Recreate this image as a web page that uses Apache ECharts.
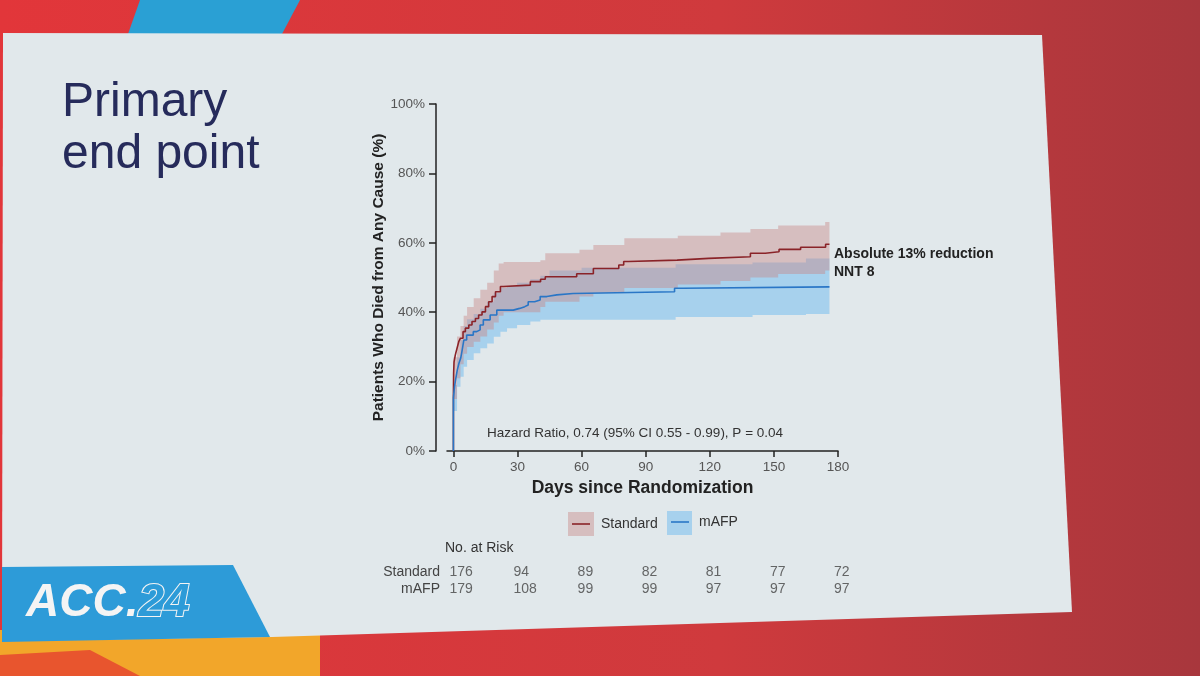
<!DOCTYPE html>
<html>
<head>
<meta charset="utf-8">
<script src="https://cdn.jsdelivr.net/npm/echarts@6/dist/echarts.min.js"></script>
<style>
  html, body { margin: 0; padding: 0; }
  #km { width: 1200px; height: 676px; }
</style>
</head>
<body>
<div id="km"></div>
<script>
// Kaplan-Meier: cumulative death (%) by day
var standardCurve = [[0,0],[0,16],[0.1,22.4],[0.3,25.7],[0.9,27.7],[1.7,29.6],[2.5,31.5],[3.3,32.5],[4.5,34.4],[5.6,35.4],[7.2,36.3],[8.7,37.3],[10.3,38.2],[11.8,39.2],[13.4,40.1],[15,41.6],[16.5,43],[18.1,44.5],[19.7,45.9],[22,47.4],[23.4,47.8],[36,48.8],[40.8,49.5],[43,50.2],[57.7,51.1],[65.5,52.6],[77.4,53.6],[79.7,54.6],[82,55],[104.7,55.5],[119.5,56],[139,57],[146,57.4],[152.4,58.1],[162.5,58.7],[174.2,59.6],[176,59.6]];
var mafpCurve = [[0,0],[0,15.3],[0.5,18.5],[1,20.5],[1.8,23.3],[2.6,25.3],[3.4,26.7],[4.1,29.1],[4.9,32],[6.2,33.4],[9.3,34.4],[10.9,34.9],[12.5,36.3],[14,37.8],[17.2,39.2],[20.3,40.6],[28,41.1],[31,41.6],[33.4,42.1],[35,43],[38,43.5],[40.6,44.5],[43.7,45],[48.4,45.4],[56,45.9],[103.5,46.9],[107.5,47.3],[176,47.3]];

// 95% CI bands (step)
var redBandDays = [0,1.7,3.3,4.8,6.4,9.5,12.6,15.8,18.9,21.2,23.5,40.7,43,59,65.5,80,105,125,139,152,174,176];
var redUpper = [27,33,36,39,41.5,44,46.5,48.5,52,54,54.5,55,57,58,59.4,61.3,62,63,64,65,66,66];
var redLower = [15,21,25,28,30,31.5,33,35,37,39,40,41.5,43,44.5,45.5,47,48,49,50,51,52,52];
var blueBandDays = [0,1.7,3.3,4.8,6.4,9.5,12.6,15.8,18.9,22,25.1,29.8,36,40.7,45,60,104,140,165,176];
var blueUpper = [19,27,32,36,38,39.5,41,43,45.5,47,47.5,48.5,49.5,50.5,52,52.8,53.8,54.3,55.5,56];
var blueLower = [11.5,18.5,21.4,24.3,26.2,28.2,29.6,31,32.9,34.4,35.4,36.3,37.3,37.8,37.8,37.8,38.6,39.2,39.5,39.5];

var dayTicks = [0,30,60,90,120,150,180];
var riskDays = [0,30,60,90,120,150,180];
var riskStandard = [176,94,89,82,81,77,72];
var riskMafp = [179,108,99,99,97,97,97];

var FONT = '"Liberation Sans", Arial, sans-serif';

function bandRenderer(days, up, low) {
  return function(params, api) {
    var pts = [];
    for (var i = 0; i < days.length; i++) {
      var nx = i < days.length - 1 ? days[i + 1] : days[i];
      pts.push(api.coord([days[i], up[i]]));
      pts.push(api.coord([nx, up[i]]));
    }
    for (var j = days.length - 1; j >= 0; j--) {
      var nx2 = j < days.length - 1 ? days[j + 1] : days[j];
      pts.push(api.coord([nx2, low[j]]));
      pts.push(api.coord([days[j], low[j]]));
    }
    return {
      type: 'polygon',
      shape: { points: pts },
      style: { fill: api.visual('color') }
    };
  };
}

var riskStd = riskDays.map(function(d, i) { return [d, 'Standard', riskStandard[i]]; });
var riskAfp = riskDays.map(function(d, i) { return [d, 'mAFP', riskMafp[i]]; });

var chart = echarts.init(document.getElementById('km'));
chart.setOption({
  backgroundColor: {
    type: 'linear', x: 0, y: 0, x2: 1, y2: 0,
    colorStops: [{ offset: 0, color: '#e2363a' }, { offset: 0.6, color: '#cf3a3d' }, { offset: 1, color: '#a8373d' }]
  },
  textStyle: { fontFamily: FONT },
  animation: false,
  grid: [
    { left: 447, top: 104, width: 391, height: 347 },
    { left: 447, top: 564, width: 391, height: 34 }
  ],
  xAxis: [{
    type: 'value', gridIndex: 0, min: -3, max: 180,
    name: 'Days since Randomization', nameLocation: 'middle', nameGap: 23,
    nameTextStyle: { fontSize: 17.5, fontWeight: 'bold', color: '#222' },
    axisLine: { lineStyle: { color: '#222', width: 1.5 } },
    axisTick: { length: 6, lineStyle: { color: '#222', width: 1.5 }, customValues: dayTicks },
    axisLabel: { fontSize: 13.5, color: '#555', margin: 9, customValues: dayTicks },
    splitLine: { show: false }
  }, {
    type: 'value', gridIndex: 1, min: -3, max: 180, show: false
  }],
  yAxis: [{
    type: 'value', gridIndex: 0, min: 0, max: 100, interval: 20, offset: 11,
    name: 'Patients Who Died from Any Cause (%)', nameLocation: 'middle', nameGap: 42,
    nameTextStyle: { fontSize: 15.5, fontWeight: 'bold', color: '#222' },
    axisLine: { show: true, onZero: false, lineStyle: { color: '#222', width: 1.5 } },
    axisTick: { show: true, length: 7, lineStyle: { color: '#222', width: 1.5 } },
    axisLabel: { formatter: '{value}%', fontSize: 13.5, color: '#555', margin: 11 },
    splitLine: { show: false }
  }, {
    type: 'category', gridIndex: 1, data: ['mAFP', 'Standard'],
    axisLine: { show: false }, axisTick: { show: false },
    axisLabel: { interval: 0, fontSize: 14, color: '#444', margin: 7 }
  }],
  series: [
    {
      name: 'mAFP CI', type: 'custom', xAxisIndex: 0, yAxisIndex: 0, data: [[0, 0]],
      itemStyle: { color: 'rgba(110,185,240,0.5)' },
      renderItem: bandRenderer(blueBandDays, blueUpper, blueLower), z: 1
    },
    {
      name: 'Standard CI', type: 'custom', xAxisIndex: 0, yAxisIndex: 0, data: [[0, 0]],
      itemStyle: { color: 'rgba(200,130,130,0.42)' },
      renderItem: bandRenderer(redBandDays, redUpper, redLower), z: 1
    },
    {
      name: 'Standard', type: 'line', step: 'end', data: standardCurve, showSymbol: false,
      lineStyle: { color: '#8a2328', width: 1.6 }, z: 3
    },
    {
      name: 'mAFP', type: 'line', step: 'end', data: mafpCurve, showSymbol: false,
      lineStyle: { color: '#2a76c6', width: 1.6 }, z: 4
    },
    {
      type: 'scatter', xAxisIndex: 1, yAxisIndex: 1, symbolSize: 0,
      data: riskStd.concat(riskAfp),
      label: {
        show: true, position: 'inside', align: 'left', offset: [-4, 0],
        fontSize: 14, color: '#444',
        formatter: function(p) { return p.value[2]; }
      }
    }
  ],
  graphic: [
    // backdrop
    { type: 'polygon', z: -20, shape: { points: [[140,0],[300,0],[282,34],[128,34]] }, style: { fill: '#2aa0d4' } },
    { type: 'polygon', z: -20, shape: { points: [[0,630],[320,630],[320,676],[0,676]] }, style: { fill: '#f2a62a' } },
    { type: 'polygon', z: -20, shape: { points: [[0,655],[90,650],[140,676],[0,676]] }, style: { fill: '#e8552e' } },
    // slide
    { type: 'polygon', z: -10, shape: { points: [[3,33],[1042,35],[1072,612],[272,637],[2,641]] }, style: { fill: '#e1e8eb' } },
    // ACC banner
    { type: 'polygon', z: -5, shape: { points: [[2,567],[233,565],[270,637],[2,642]] }, style: { fill: '#2d9bd8' } },
    {
      type: 'text', z: 10, x: 26, y: 603,
      style: {
        text: '{a|ACC.}{b|24}', verticalAlign: 'middle',
        rich: {
          a: { fontSize: 46, fontWeight: 'bold', fontStyle: 'italic', fill: '#f4f4f4', fontFamily: FONT },
          b: { fontSize: 46, fontWeight: 'bold', fontStyle: 'italic', fill: '#2d9bd8', stroke: '#f4f4f4', lineWidth: 2, fontFamily: FONT }
        }
      }
    },
    // title
    { type: 'text', z: 10, x: 62, y: 79, style: { text: 'Primary', font: '48px ' + FONT, fill: '#262b5b' } },
    { type: 'text', z: 10, x: 62, y: 131, style: { text: 'end point', font: '48px ' + FONT, fill: '#262b5b' } },
    // annotations
    { type: 'text', z: 10, x: 487, y: 433, style: { text: 'Hazard Ratio, 0.74 (95% CI 0.55 - 0.99), P = 0.04', font: '13.5px ' + FONT, fill: '#333', verticalAlign: 'middle' } },
    { type: 'text', z: 10, x: 834, y: 254, style: { text: 'Absolute 13% reduction', font: 'bold 14px ' + FONT, fill: '#222', verticalAlign: 'middle' } },
    { type: 'text', z: 10, x: 834, y: 272, style: { text: 'NNT 8', font: 'bold 14px ' + FONT, fill: '#222', verticalAlign: 'middle' } },
    // legend
    { type: 'rect', z: 10, shape: { x: 568, y: 512, width: 26, height: 24 }, style: { fill: 'rgba(200,130,130,0.42)' } },
    { type: 'line', z: 11, shape: { x1: 572, y1: 524, x2: 590, y2: 524 }, style: { stroke: '#8a2328', lineWidth: 1.6 } },
    { type: 'text', z: 10, x: 601, y: 524, style: { text: 'Standard', font: '14px ' + FONT, fill: '#333', verticalAlign: 'middle' } },
    { type: 'rect', z: 10, shape: { x: 667, y: 511, width: 25, height: 24 }, style: { fill: 'rgba(110,185,240,0.5)' } },
    { type: 'line', z: 11, shape: { x1: 671, y1: 522, x2: 689, y2: 522 }, style: { stroke: '#2a76c6', lineWidth: 1.6 } },
    { type: 'text', z: 10, x: 699, y: 522, style: { text: 'mAFP', font: '14px ' + FONT, fill: '#333', verticalAlign: 'middle' } },
    // risk table header
    { type: 'text', z: 10, x: 445, y: 548, style: { text: 'No. at Risk', font: '14px ' + FONT, fill: '#333', verticalAlign: 'middle' } }
  ]
});
</script>
</body>
</html>
